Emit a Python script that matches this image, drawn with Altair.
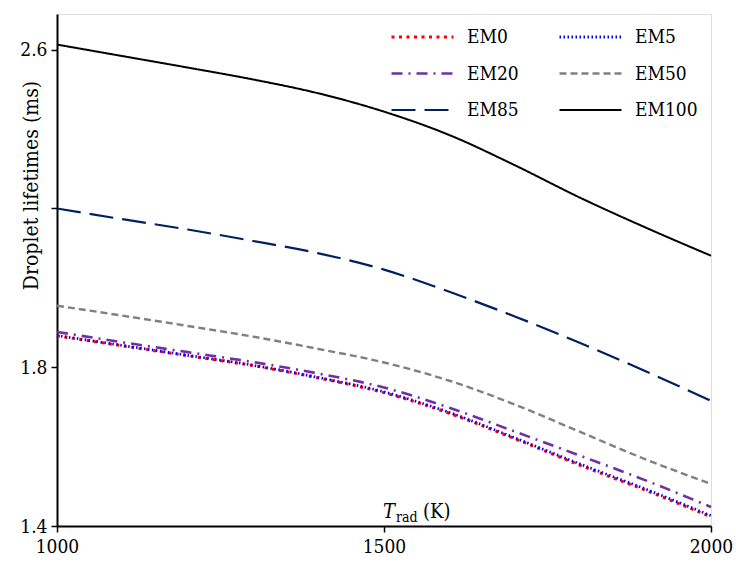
import altair as alt
import pandas as pd

temps = [1000, 1100, 1200, 1300, 1400, 1500, 1600, 1700, 1800, 1900, 2000]
em0 = [1.879, 1.854, 1.829, 1.804, 1.773, 1.736, 1.684, 1.620, 1.553, 1.490, 1.423]
em5 = [1.880, 1.855, 1.830, 1.805, 1.774, 1.738, 1.686, 1.622, 1.556, 1.493, 1.426]
em20 = [1.889, 1.863, 1.838, 1.813, 1.784, 1.749, 1.698, 1.638, 1.577, 1.515, 1.448]
em50 = [1.955, 1.930, 1.904, 1.877, 1.846, 1.812, 1.766, 1.706, 1.637, 1.568, 1.506]
em85 = [2.200, 2.173, 2.147, 2.118, 2.087, 2.046, 1.990, 1.928, 1.861, 1.790, 1.715]
em100 = [2.613, 2.584, 2.555, 2.525, 2.490, 2.444, 2.385, 2.309, 2.227, 2.152, 2.081]

series_names = ["EM0", "EM5", "EM20", "EM50", "EM85", "EM100"]
series_vals = [em0, em5, em20, em50, em85, em100]
colors = ["#FF0000", "#0000FF", "#7030A0", "#808080", "#002060", "#000000"]
dashes = [[3, 4.5], [1.5, 2.5], [11, 6, 2, 6], [7, 4], [24, 9], [1, 0]]
widths = [3, 2, 3.2, 3, 3.5, 3]

rows = []
for name, vals in zip(series_names, series_vals):
    for t, v in zip(temps, vals):
        rows.append({"T": t, "life": v, "series": name})
df = pd.DataFrame(rows)

FONT = "DejaVu Serif Condensed, DejaVu Serif, serif"

legend = alt.Legend(
    title=None, orient="none", legendX=333, legendY=13, columns=2,
    direction="horizontal", clipHeight=20,
    symbolType="stroke", symbolSize=3844, symbolStrokeWidth=3,
    labelFont=FONT, labelFontSize=19, labelColor="black", labelOffset=12,
    rowPadding=16.5, columnPadding=39, padding=0,
)

lines = alt.Chart(df).mark_line(interpolate="monotone").encode(
    x=alt.X("T:Q", scale=alt.Scale(domain=[1000, 2000], nice=False, zero=False),
            axis=alt.Axis(values=[1000, 1500, 2000], title=None, grid=False, format="d",
                          tickSize=6, tickColor="black", tickWidth=1.5,
                          domainColor="black", domainWidth=2,
                          labelFont=FONT, labelFontSize=19, labelColor="black",
                          labelPadding=5, labelFlush=False)),
    y=alt.Y("life:Q", scale=alt.Scale(domain=[1.4, 2.69], nice=False, zero=False),
            axis=alt.Axis(values=[1.4, 1.8, 2.2, 2.6],
                          labelExpr="abs(datum.value - 2.2) < 0.01 ? '' : format(datum.value, '.1f')",
                          title="Droplet lifetimes (ms)", grid=False,
                          tickSize=6, tickColor="black", tickWidth=1.5,
                          domainColor="black", domainWidth=2,
                          labelFont=FONT, labelFontSize=19, labelColor="black",
                          labelPadding=4, labelFlush=False,
                          titleFont=FONT, titleFontSize=21, titleFontWeight="normal",
                          titleColor="black", titleAngle=-90, titleAlign="center",
                          titleBaseline="middle", titleX=-26, titleY=171)),
    color=alt.Color("series:N", sort=series_names,
                    scale=alt.Scale(domain=series_names, range=colors), legend=legend),
    strokeDash=alt.StrokeDash("series:N", sort=series_names,
                              scale=alt.Scale(domain=series_names, range=dashes), legend=legend),
    strokeWidth=alt.StrokeWidth("series:N", sort=series_names,
                                scale=alt.Scale(domain=series_names, range=widths), legend=legend),
)

label_df = pd.DataFrame({"T": [1500], "life": [1.4]})
t_main = alt.Chart(label_df).mark_text(
    text="T", font=FONT, fontSize=20, fontStyle="italic", align="left",
    baseline="alphabetic", dx=-1, dy=-8, color="black"
).encode(x="T:Q", y="life:Q")
t_sub = alt.Chart(label_df).mark_text(
    text="rad", font=FONT, fontSize=14, align="left",
    baseline="alphabetic", dx=12, dy=-4, color="black"
).encode(x="T:Q", y="life:Q")
t_unit = alt.Chart(label_df).mark_text(
    text="(K)", font=FONT, fontSize=20, align="left",
    baseline="alphabetic", dx=39, dy=-8, color="black"
).encode(x="T:Q", y="life:Q")

chart = alt.layer(lines, t_main, t_sub, t_unit).properties(
    width=654, height=512,
    padding={"left": 57, "top": 14, "right": 25, "bottom": 37},
    autosize=alt.AutoSizeParams(type="none"),
).configure_view(stroke="black", strokeWidth=2).configure(background="white")

chart.save("out.html", embed_options={"renderer": "svg", "actions": False})
